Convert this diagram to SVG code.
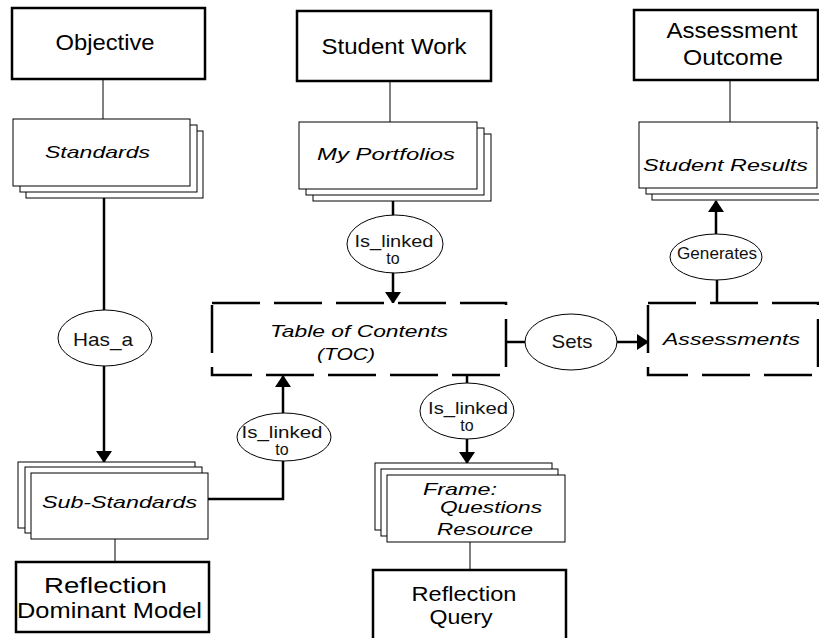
<svg xmlns="http://www.w3.org/2000/svg" width="819" height="638" viewBox="0 0 819 638">
<style>
.title{fill:#fff;stroke:#000;stroke-width:2.5}
.sheet{fill:#fff;stroke:#000;stroke-width:1}
.dash{fill:#fff;stroke:#000;stroke-width:2.5;stroke-dasharray:48 14}
.oval{fill:#fff;stroke:#000;stroke-width:1}
.thin{stroke:#000;stroke-width:1;fill:none}
.thick{stroke:#000;stroke-width:2.5;fill:none}
.arr{stroke:#000;stroke-width:2.5;fill:none;marker-end:url(#ah)}
text{font-family:"Liberation Sans",Arial,sans-serif;fill:#000}
.t{font-size:22px;text-anchor:middle}
.i{font-size:17px;font-style:italic;text-anchor:middle}
.o{font-size:16px;text-anchor:middle;fill:#111}
</style>
<defs>
<marker id="ah" markerUnits="userSpaceOnUse" markerWidth="12" markerHeight="16" refX="11" refY="8" orient="auto">
<path d="M0,0 L12,8 L0,16 z" fill="#000"/>
</marker>
</defs>
<rect width="819" height="638" fill="#fff"/>
<g id="connectors">
<line class="thin" x1="103" y1="79" x2="103" y2="119"/>
<line class="thin" x1="390" y1="81" x2="390" y2="122"/>
<line class="thin" x1="730" y1="80" x2="730" y2="122"/>
<line class="thick" x1="104" y1="198" x2="104" y2="310"/>
<line class="arr" x1="104" y1="366" x2="104" y2="462"/>
<line class="thick" x1="393" y1="201" x2="393" y2="216"/>
<line class="arr" x1="393" y1="272" x2="393" y2="303"/>
<path class="thick" d="M208,499 H283 V459"/>
<line class="arr" x1="283" y1="414" x2="283" y2="376"/>
<line class="thick" x1="467" y1="375" x2="467" y2="384"/>
<line class="arr" x1="467" y1="439" x2="467" y2="463"/>
<line class="thick" x1="506" y1="342" x2="525" y2="342"/>
<line class="arr" x1="617" y1="342" x2="648" y2="342"/>
<line class="thick" x1="717" y1="303" x2="717" y2="280"/>
<line class="arr" x1="716" y1="234" x2="716" y2="201"/>
<line class="thin" x1="115" y1="539" x2="115" y2="562"/>
<line class="thin" x1="470" y1="542" x2="470" y2="570"/>
</g>
<g id="objective">
<rect class="title" x="12" y="8" width="193" height="71"/>
<text class="t" x="105" y="50" textLength="99" lengthAdjust="spacingAndGlyphs">Objective</text>
</g>
<g id="student-work">
<rect class="title" x="297" y="11" width="194" height="70"/>
<text class="t" x="394" y="54" textLength="145" lengthAdjust="spacingAndGlyphs">Student Work</text>
</g>
<g id="assessment-outcome">
<rect class="title" x="634" y="10" width="184" height="70"/>
<text class="t" x="732" y="38" textLength="131" lengthAdjust="spacingAndGlyphs">Assessment</text>
<text class="t" x="733" y="65" textLength="100" lengthAdjust="spacingAndGlyphs">Outcome</text>
</g>
<g id="standards">
<rect class="sheet" x="26" y="131" width="177" height="67"/>
<rect class="sheet" x="20" y="125" width="177" height="67"/>
<rect class="sheet" x="13" y="119" width="177" height="67"/>
<text class="i" x="97.5" y="158" textLength="105" lengthAdjust="spacingAndGlyphs">Standards</text>
</g>
<g id="my-portfolios">
<rect class="sheet" x="313" y="134" width="178" height="67"/>
<rect class="sheet" x="306" y="128" width="178" height="67"/>
<rect class="sheet" x="299" y="122" width="178" height="67"/>
<text class="i" x="386" y="160" textLength="138" lengthAdjust="spacingAndGlyphs">My Portfolios</text>
</g>
<g id="student-results">
<rect class="sheet" x="652" y="134" width="178" height="66"/>
<rect class="sheet" x="646" y="128" width="178" height="66"/>
<rect class="sheet" x="639" y="122" width="178" height="66"/>
<text class="i" x="725.5" y="171" textLength="165" lengthAdjust="spacingAndGlyphs">Student Results</text>
</g>
<g id="has-a">
<ellipse class="oval" cx="105" cy="338" rx="47" ry="28"/>
<text class="o" x="103" y="346" style="font-size:19px" textLength="60" lengthAdjust="spacingAndGlyphs">Has_a</text>
</g>
<g id="is-linked-top">
<ellipse class="oval" cx="395" cy="244" rx="48" ry="29"/>
<text class="o" x="394" y="247" textLength="79" lengthAdjust="spacingAndGlyphs">Is_linked</text>
<text class="o" x="393" y="264">to</text>
</g>
<g id="toc">
<rect class="dash" x="212" y="303" width="294" height="72"/>
<text class="i" x="359" y="337" textLength="178" lengthAdjust="spacingAndGlyphs">Table of Contents</text>
<text class="i" x="346" y="360" textLength="58" lengthAdjust="spacingAndGlyphs">(TOC)</text>
</g>
<g id="sets">
<ellipse class="oval" cx="571" cy="342" rx="46" ry="28"/>
<text class="o" x="572" y="348" style="font-size:19px" textLength="41" lengthAdjust="spacingAndGlyphs">Sets</text>
</g>
<g id="assessments">
<rect class="dash" x="648" y="303" width="170" height="72"/>
<text class="i" x="731.5" y="345" textLength="137" lengthAdjust="spacingAndGlyphs">Assessments</text>
</g>
<g id="generates">
<ellipse class="oval" cx="716" cy="257" rx="46" ry="23"/>
<text class="o" x="717" y="259" style="font-size:16px" textLength="80" lengthAdjust="spacingAndGlyphs">Generates</text>
</g>
<g id="is-linked-left">
<ellipse class="oval" cx="284" cy="437" rx="47" ry="24"/>
<text class="o" x="282" y="438" textLength="81" lengthAdjust="spacingAndGlyphs">Is_linked</text>
<text class="o" x="282" y="455">to</text>
</g>
<g id="is-linked-bottom">
<ellipse class="oval" cx="467" cy="411" rx="47" ry="28"/>
<text class="o" x="468" y="414" textLength="80" lengthAdjust="spacingAndGlyphs">Is_linked</text>
<text class="o" x="467" y="431">to</text>
</g>
<g id="sub-standards">
<rect class="sheet" x="18" y="462" width="177" height="66"/>
<rect class="sheet" x="25" y="467" width="177" height="66"/>
<rect class="sheet" x="31" y="473" width="177" height="66"/>
<text class="i" x="119.5" y="508" textLength="155" lengthAdjust="spacingAndGlyphs">Sub-Standards</text>
</g>
<g id="frame">
<rect class="sheet" x="375" y="463" width="177" height="67"/>
<rect class="sheet" x="381" y="469" width="177" height="67"/>
<rect class="sheet" x="387" y="475" width="178" height="67"/>
<text class="i" x="423" y="495" style="text-anchor:start" textLength="74" lengthAdjust="spacingAndGlyphs">Frame:</text>
<text class="i" x="440" y="513" style="text-anchor:start" textLength="102" lengthAdjust="spacingAndGlyphs">Questions</text>
<text class="i" x="437" y="535" style="text-anchor:start" textLength="96" lengthAdjust="spacingAndGlyphs">Resource</text>
</g>
<g id="reflection-dominant-model">
<rect class="title" x="16" y="562" width="193" height="70"/>
<text class="t" x="105.5" y="593" textLength="123" lengthAdjust="spacingAndGlyphs">Reflection</text>
<text class="t" x="109.5" y="618" textLength="185" lengthAdjust="spacingAndGlyphs">Dominant Model</text>
</g>
<g id="reflection-query">
<rect class="title" x="373" y="570" width="193" height="70"/>
<text class="t" x="464" y="601" style="font-size:21px" textLength="105" lengthAdjust="spacingAndGlyphs">Reflection</text>
<text class="t" x="461" y="624" style="font-size:21px" textLength="63" lengthAdjust="spacingAndGlyphs">Query</text>
</g>
</svg>
